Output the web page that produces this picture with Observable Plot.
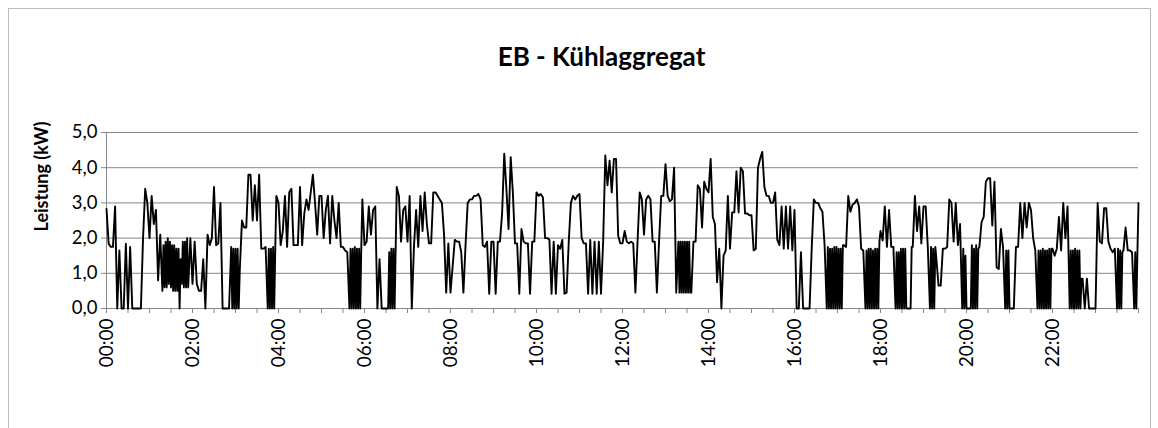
<!DOCTYPE html>
<html><head><meta charset="utf-8">
<script src="https://cdn.jsdelivr.net/npm/d3@7"></script>
<script src="https://cdn.jsdelivr.net/npm/@observablehq/plot@0.6"></script>
<style>
html,body{margin:0;padding:0;background:#fff;}
#wrap{position:relative;width:1158px;height:428px;overflow:hidden;}
#border{position:absolute;left:8px;top:8px;width:1143px;height:440px;border:1px solid #bcbcbc;box-sizing:border-box;}
#chart{position:absolute;left:0;top:0;}
</style></head><body>
<div id="wrap"><div id="border"></div><div id="chart"></div></div>
<script>
const title = "EB - Kühlaggregat";
const yLabel = "Leistung (kW)";
const yTicks = [0, 1, 2, 3, 4, 5];
const xLabelHours = [0, 2, 4, 6, 8, 10, 12, 14, 16, 18, 20, 22];
const xLabels = ["00:00","02:00","04:00","06:00","08:00","10:00","12:00","14:00","16:00","18:00","20:00","22:00"];
const stepMinutes = 3;

// power in kW, one entry every 3 minutes, one array per hour;
// a pair [a, b] holds two readings 1.5 minutes apart where the unit switches rapidly
const h00 = [2.83,1.84,1.75,1.75,2.9,0,1.65,0,0,1.84,0,1.75,0,0,0,0,0,2.0,3.4,3.0];
const h01 = [2.0,3.2,2.4,2.8,0.8,2.1,[0.5,1.8],[0.6,1.9],[0.6,2.0],[0.7,1.9],[0.6,1.8],[0.5,1.8],[0.5,1.7],[0.5,1.7],[0,1.4],[0.7,1.9],[0.6,1.9],[0.6,2.0],0.6,2.0];
const h02 = [0.7,1.9,0.7,0.5,0.5,1.4,0,2.1,1.8,2.0,3.45,1.8,1.85,3.0,0,0,0,0,[1.75,0],[1.7,0]];
const h03 = [[1.7,0],[1.7,0],1.1,2.5,2.3,2.3,3.8,3.8,2.5,3.5,2.5,3.8,1.7,1.7,1.75,[0,1.7],[0,1.7],[0,1.75],[0,1.7],3.2];
const h04 = [3.0,1.8,2.2,3.2,1.75,3.3,3.4,1.8,1.8,1.8,3.45,1.8,2.7,3.1,2.8,3.3,3.8,3.0,2.1,3.2];
const h05 = [3.2,2.0,2.8,3.2,1.85,3.2,2.5,2.0,3.0,1.75,1.75,1.65,1.6,[0,1.7],[0,1.7],[0,1.75],[0,1.7],[0,1.7],[0,1.7],3.1];
const h06 = [1.8,1.9,2.9,2.1,2.8,2.9,0,1.4,0,0,0,[0,1.6],[0,1.7],[0,1.7],[0,1.7],3.45,3.2,1.9,2.8,2.9];
const h07 = [1.9,3.2,0,1.75,2.8,1.75,3.2,2.2,3.3,2.4,1.85,1.85,3.3,3.3,3.2,3.1,3.0,2.1,0.45,1.85];
const h08 = [0.45,1.2,1.95,1.9,1.9,1.6,0.45,1.8,3.0,3.1,3.1,3.2,3.2,3.25,3.1,1.8,1.75,1.9,0.42,1.9];
const h09 = [1.9,0.42,1.9,1.9,2.7,4.4,3.4,2.26,4.3,3.3,1.85,1.85,0.42,2.26,1.9,1.85,1.85,0.42,1.9,1.9];
const h10 = [3.3,3.2,3.25,3.15,2.0,2.0,1.95,0.42,1.9,0.42,1.8,1.7,1.95,0.42,0.45,1.9,3.0,3.2,3.1,3.2];
const h11 = [3.25,2.0,1.85,1.85,0.42,1.95,0.42,1.9,0.42,1.9,0.42,1.9,4.35,3.5,4.2,3.3,4.25,4.25,2.07,1.85];
const h12 = [1.85,2.2,1.9,1.85,1.9,1.85,0.45,1.9,3.3,3.1,2.1,3.1,3.2,3.1,1.9,1.9,0.45,1.9,3.2,3.2];
const h13 = [4.1,3.2,3.05,3.1,4.0,0.45,[1.9,0.45],[1.9,0.45],[1.9,0.45],[1.9,0.45],[1.9,0.45],[1.9,0.45],0.45,1.9,1.9,3.5,3.4,2.3,3.6,3.4];
const h14 = [3.3,4.25,2.6,2.4,0.75,1.7,0,1.5,1.65,3.2,1.7,2.73,2.73,3.9,2.73,4.0,3.9,2.7,2.7,2.65];
const h15 = [2.65,1.65,1.7,4.0,4.25,4.45,3.45,3.2,3.2,3.0,3.0,3.3,1.95,1.8,2.9,1.7,2.9,1.7,2.9,1.65];
const h16 = [2.8,0,0,1.6,0,0,0,0,1.7,3.1,3.0,3.0,2.85,2.75,1.8,[0,1.75],[0,1.7],[0,1.7],[0,1.75],[0,1.75]];
const h17 = [[0,1.7],[0,1.7],[0,1.8],1.8,1.75,3.2,2.75,2.95,3.0,3.1,2.9,1.7,1.65,[0,1.65],[0,1.7],[0,1.7],[0,1.65],[0,1.7],[0,1.7],[0,1.9]];
const h18 = [2.2,1.93,2.9,1.75,2.8,1.75,1.75,[0,1.6],[0,1.6],[0,1.7],[0,1.7],[0,1.7],0,0,[0,1.75],1.75,3.2,2.2,2.9,1.85];
const h19 = [2.9,2.9,1.75,[0,1.75],[0,1.7],[0,1.75],1.4,0.65,0.65,1.7,1.7,1.75,3.1,3.0,1.9,3.0,1.8,2.4,[0,1.7],[0,1.5]];
const h20 = [0,0,[0,1.8],[0,1.7],[0,1.8],[0,1.7],1.75,2.45,2.6,3.6,3.7,3.7,2.36,3.6,1.17,1.12,2.26,1.74,[0,1.65],[0,1.65]];
const h21 = [0,0,0,1.75,1.75,3.0,2.0,3.0,2.3,3.0,2.8,2.0,1.65,[0,1.65],[0,1.65],[0,1.7],[0,1.65],[0,1.65],[0,1.7],[0,1.7]];
const h22 = [1.7,1.5,1.7,2.6,1.65,3.0,2.0,2.9,[0,1.65],[0,1.65],[0,1.7],[0,1.65],[0,1.65],[0,0.85],0.85,0,0.85,0,0,0];
const h23 = [0,3.0,1.9,1.85,2.85,2.85,1.9,1.7,1.6,1.7,[0,1.7],[0,1.65],[0,1.6],1.65,2.3,1.65,1.65,1.6,[0,1.6],[0,1.6]];
const endValue = 3.0;

const hours = [h00,h01,h02,h03,h04,h05,h06,h07,h08,h09,h10,h11,h12,h13,h14,h15,h16,h17,h18,h19,h20,h21,h22,h23];
const series = [];
hours.forEach((arr, h) => arr.forEach((v, k) => {
  const t0 = h + k * stepMinutes / 60;
  if (Array.isArray(v)) v.forEach((u, m) => series.push({t: t0 + m * stepMinutes / 60 / v.length, v: u}));
  else series.push({t: t0, v});
}));
series.push({t: 24, v: endValue});

const fmtY = d => d.toFixed(1).replace(".", ",");
const fmtX = d => xLabels[xLabelHours.indexOf(d)];
const grid = "#868686";

const plot = Plot.plot({
  width: 1158, height: 428,
  marginLeft: 106, marginRight: 20, marginTop: 132, marginBottom: 120,
  x: {domain: [0, 24]},
  y: {domain: [0, 5]},
  style: {fontFamily: "Lato, 'Open Sans', sans-serif", background: "transparent", color: "#000"},
  marks: [
    Plot.gridY(yTicks, {stroke: grid, strokeOpacity: 1, strokeWidth: 1}),
    Plot.axisY(yTicks, {tickSize: 5, tickPadding: 4, tickFormat: fmtY, fontSize: 18.5, label: null, stroke: grid}),
    Plot.axisX(d3.range(0, 24.01, 0.5), {tickSize: 5, tickFormat: () => "", label: null, stroke: grid}),
    Plot.axisX(xLabelHours, {tickSize: 0, tickRotate: -90, tickPadding: 10, tickFormat: fmtX, fontSize: 19, label: null}),
    Plot.ruleX([0], {stroke: grid}),
    Plot.ruleY([0], {stroke: grid}),
    Plot.line(series, {x: "t", y: "v", stroke: "black", strokeWidth: 1.9}),
    Plot.text([title], {frameAnchor: "top", lineAnchor: "middle", dx: -21, dy: -75, fontSize: 26, fontWeight: "bold"}),
    Plot.text([yLabel], {frameAnchor: "left", rotate: -90, dx: -64, dy: 11, fontSize: 18, fontWeight: "bold"})
  ]
});
document.getElementById("chart").appendChild(plot);
</script>
</body></html>
